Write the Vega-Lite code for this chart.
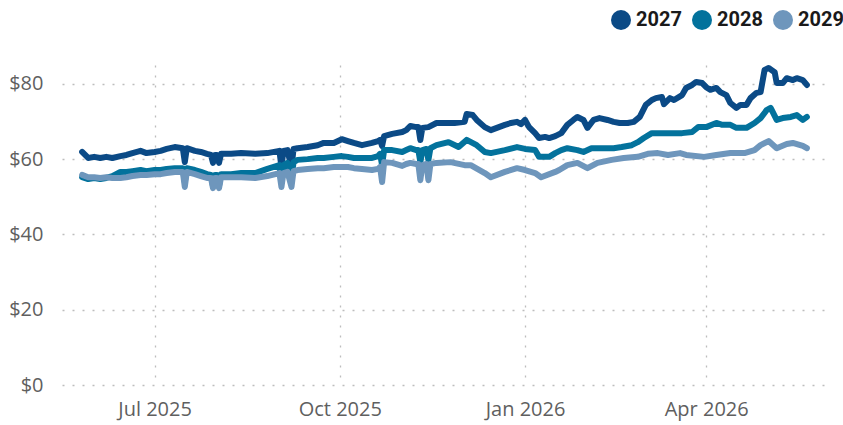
{
  "$schema": "https://vega.github.io/schema/vega-lite/v6.json",
  "width": 763,
  "height": 320,
  "autosize": "none",
  "padding": {"left": 62, "top": 65, "right": 18, "bottom": 40},
  "background": "white",
  "config": {"view": {"stroke": null}},
  "data": {"values": [
    {"d":"2025-05-26","s":"2027","v":61.9},{"d":"2025-05-29","s":"2027","v":60.3},{"d":"2025-06-01","s":"2027","v":60.6},{"d":"2025-06-04","s":"2027","v":60.3},{"d":"2025-06-07","s":"2027","v":60.6},{"d":"2025-06-10","s":"2027","v":60.3},{"d":"2025-06-14","s":"2027","v":60.8},{"d":"2025-06-17","s":"2027","v":61.1},{"d":"2025-06-20","s":"2027","v":61.6},{"d":"2025-06-24","s":"2027","v":62.2},{"d":"2025-06-27","s":"2027","v":61.6},{"d":"2025-07-01","s":"2027","v":61.9},{"d":"2025-07-04","s":"2027","v":62.2},{"d":"2025-07-07","s":"2027","v":62.7},{"d":"2025-07-11","s":"2027","v":63.2},{"d":"2025-07-15","s":"2027","v":62.9},{"d":"2025-07-16","s":"2027","v":59.2},{"d":"2025-07-17","s":"2027","v":62.9},{"d":"2025-07-21","s":"2027","v":62.2},{"d":"2025-07-24","s":"2027","v":61.9},{"d":"2025-07-27","s":"2027","v":61.4},{"d":"2025-07-29","s":"2027","v":61.1},{"d":"2025-07-30","s":"2027","v":59.0},{"d":"2025-07-31","s":"2027","v":61.1},{"d":"2025-08-01","s":"2027","v":61.1},{"d":"2025-08-02","s":"2027","v":59.0},{"d":"2025-08-03","s":"2027","v":61.4},{"d":"2025-08-08","s":"2027","v":61.4},{"d":"2025-08-13","s":"2027","v":61.6},{"d":"2025-08-20","s":"2027","v":61.4},{"d":"2025-08-26","s":"2027","v":61.6},{"d":"2025-09-01","s":"2027","v":62.2},{"d":"2025-09-02","s":"2027","v":57.9},{"d":"2025-09-03","s":"2027","v":62.2},{"d":"2025-09-05","s":"2027","v":62.4},{"d":"2025-09-07","s":"2027","v":57.6},{"d":"2025-09-08","s":"2027","v":62.7},{"d":"2025-09-10","s":"2027","v":62.9},{"d":"2025-09-15","s":"2027","v":63.2},{"d":"2025-09-20","s":"2027","v":63.7},{"d":"2025-09-23","s":"2027","v":64.3},{"d":"2025-09-28","s":"2027","v":64.3},{"d":"2025-10-02","s":"2027","v":65.3},{"d":"2025-10-05","s":"2027","v":64.8},{"d":"2025-10-08","s":"2027","v":64.3},{"d":"2025-10-12","s":"2027","v":63.7},{"d":"2025-10-17","s":"2027","v":64.3},{"d":"2025-10-20","s":"2027","v":64.8},{"d":"2025-10-21","s":"2027","v":65.1},{"d":"2025-10-22","s":"2027","v":63.5},{"d":"2025-10-23","s":"2027","v":66.1},{"d":"2025-10-27","s":"2027","v":66.7},{"d":"2025-11-01","s":"2027","v":67.2},{"d":"2025-11-03","s":"2027","v":67.7},{"d":"2025-11-05","s":"2027","v":68.8},{"d":"2025-11-08","s":"2027","v":68.5},{"d":"2025-11-09","s":"2027","v":68.5},{"d":"2025-11-10","s":"2027","v":65.1},{"d":"2025-11-11","s":"2027","v":68.3},{"d":"2025-11-14","s":"2027","v":68.5},{"d":"2025-11-18","s":"2027","v":69.6},{"d":"2025-11-22","s":"2027","v":69.6},{"d":"2025-11-27","s":"2027","v":69.6},{"d":"2025-12-02","s":"2027","v":69.9},{"d":"2025-12-03","s":"2027","v":72.0},{"d":"2025-12-06","s":"2027","v":71.7},{"d":"2025-12-08","s":"2027","v":70.4},{"d":"2025-12-12","s":"2027","v":68.5},{"d":"2025-12-15","s":"2027","v":67.7},{"d":"2025-12-18","s":"2027","v":68.3},{"d":"2025-12-22","s":"2027","v":69.1},{"d":"2025-12-25","s":"2027","v":69.6},{"d":"2025-12-28","s":"2027","v":69.9},{"d":"2025-12-30","s":"2027","v":69.3},{"d":"2026-01-01","s":"2027","v":70.4},{"d":"2026-01-03","s":"2027","v":68.5},{"d":"2026-01-06","s":"2027","v":66.9},{"d":"2026-01-08","s":"2027","v":65.6},{"d":"2026-01-11","s":"2027","v":65.9},{"d":"2026-01-13","s":"2027","v":65.6},{"d":"2026-01-16","s":"2027","v":66.1},{"d":"2026-01-19","s":"2027","v":66.9},{"d":"2026-01-22","s":"2027","v":69.1},{"d":"2026-01-25","s":"2027","v":70.4},{"d":"2026-01-27","s":"2027","v":71.2},{"d":"2026-01-30","s":"2027","v":70.4},{"d":"2026-02-01","s":"2027","v":68.3},{"d":"2026-02-04","s":"2027","v":70.4},{"d":"2026-02-07","s":"2027","v":70.9},{"d":"2026-02-11","s":"2027","v":70.4},{"d":"2026-02-14","s":"2027","v":69.9},{"d":"2026-02-17","s":"2027","v":69.6},{"d":"2026-02-21","s":"2027","v":69.6},{"d":"2026-02-24","s":"2027","v":69.9},{"d":"2026-02-27","s":"2027","v":71.2},{"d":"2026-03-02","s":"2027","v":74.4},{"d":"2026-03-05","s":"2027","v":75.7},{"d":"2026-03-07","s":"2027","v":76.2},{"d":"2026-03-10","s":"2027","v":76.5},{"d":"2026-03-11","s":"2027","v":74.6},{"d":"2026-03-14","s":"2027","v":76.2},{"d":"2026-03-16","s":"2027","v":75.7},{"d":"2026-03-20","s":"2027","v":77.0},{"d":"2026-03-22","s":"2027","v":78.9},{"d":"2026-03-25","s":"2027","v":79.7},{"d":"2026-03-27","s":"2027","v":80.5},{"d":"2026-03-30","s":"2027","v":80.2},{"d":"2026-04-01","s":"2027","v":79.1},{"d":"2026-04-03","s":"2027","v":78.4},{"d":"2026-04-06","s":"2027","v":78.9},{"d":"2026-04-08","s":"2027","v":77.8},{"d":"2026-04-11","s":"2027","v":77.0},{"d":"2026-04-13","s":"2027","v":74.9},{"d":"2026-04-16","s":"2027","v":73.6},{"d":"2026-04-18","s":"2027","v":74.4},{"d":"2026-04-21","s":"2027","v":74.4},{"d":"2026-04-23","s":"2027","v":76.2},{"d":"2026-04-26","s":"2027","v":77.6},{"d":"2026-04-28","s":"2027","v":77.8},{"d":"2026-04-30","s":"2027","v":83.7},{"d":"2026-05-02","s":"2027","v":84.2},{"d":"2026-05-05","s":"2027","v":83.1},{"d":"2026-05-06","s":"2027","v":80.2},{"d":"2026-05-09","s":"2027","v":80.2},{"d":"2026-05-11","s":"2027","v":81.5},{"d":"2026-05-14","s":"2027","v":81.0},{"d":"2026-05-16","s":"2027","v":81.5},{"d":"2026-05-19","s":"2027","v":81.0},{"d":"2026-05-21","s":"2027","v":79.7},
    {"d":"2025-05-26","s":"2028","v":55.2},{"d":"2025-05-29","s":"2028","v":54.7},{"d":"2025-06-01","s":"2028","v":55.0},{"d":"2025-06-04","s":"2028","v":54.7},{"d":"2025-06-07","s":"2028","v":55.0},{"d":"2025-06-10","s":"2028","v":55.5},{"d":"2025-06-14","s":"2028","v":56.6},{"d":"2025-06-17","s":"2028","v":56.6},{"d":"2025-06-20","s":"2028","v":56.8},{"d":"2025-06-24","s":"2028","v":57.1},{"d":"2025-06-27","s":"2028","v":56.8},{"d":"2025-07-01","s":"2028","v":57.1},{"d":"2025-07-04","s":"2028","v":57.1},{"d":"2025-07-07","s":"2028","v":57.4},{"d":"2025-07-11","s":"2028","v":57.6},{"d":"2025-07-15","s":"2028","v":57.6},{"d":"2025-07-16","s":"2028","v":53.9},{"d":"2025-07-17","s":"2028","v":57.6},{"d":"2025-07-21","s":"2028","v":57.1},{"d":"2025-07-24","s":"2028","v":56.6},{"d":"2025-07-27","s":"2028","v":56.0},{"d":"2025-07-29","s":"2028","v":55.8},{"d":"2025-07-30","s":"2028","v":52.9},{"d":"2025-07-31","s":"2028","v":55.8},{"d":"2025-08-01","s":"2028","v":55.8},{"d":"2025-08-02","s":"2028","v":52.9},{"d":"2025-08-03","s":"2028","v":56.0},{"d":"2025-08-08","s":"2028","v":56.0},{"d":"2025-08-13","s":"2028","v":56.3},{"d":"2025-08-20","s":"2028","v":56.3},{"d":"2025-08-26","s":"2028","v":57.4},{"d":"2025-09-01","s":"2028","v":58.4},{"d":"2025-09-02","s":"2028","v":54.4},{"d":"2025-09-03","s":"2028","v":58.4},{"d":"2025-09-05","s":"2028","v":59.0},{"d":"2025-09-07","s":"2028","v":54.4},{"d":"2025-09-08","s":"2028","v":59.2},{"d":"2025-09-10","s":"2028","v":59.8},{"d":"2025-09-15","s":"2028","v":60.0},{"d":"2025-09-20","s":"2028","v":60.3},{"d":"2025-09-23","s":"2028","v":60.3},{"d":"2025-09-28","s":"2028","v":60.6},{"d":"2025-10-02","s":"2028","v":60.8},{"d":"2025-10-05","s":"2028","v":60.6},{"d":"2025-10-08","s":"2028","v":60.3},{"d":"2025-10-12","s":"2028","v":60.3},{"d":"2025-10-17","s":"2028","v":60.3},{"d":"2025-10-20","s":"2028","v":60.8},{"d":"2025-10-21","s":"2028","v":61.4},{"d":"2025-10-22","s":"2028","v":58.4},{"d":"2025-10-23","s":"2028","v":62.4},{"d":"2025-10-27","s":"2028","v":62.4},{"d":"2025-11-01","s":"2028","v":61.9},{"d":"2025-11-03","s":"2028","v":62.4},{"d":"2025-11-05","s":"2028","v":62.9},{"d":"2025-11-08","s":"2028","v":62.4},{"d":"2025-11-09","s":"2028","v":62.4},{"d":"2025-11-10","s":"2028","v":59.2},{"d":"2025-11-11","s":"2028","v":62.4},{"d":"2025-11-13","s":"2028","v":62.7},{"d":"2025-11-14","s":"2028","v":59.8},{"d":"2025-11-15","s":"2028","v":62.9},{"d":"2025-11-18","s":"2028","v":63.7},{"d":"2025-11-24","s":"2028","v":64.5},{"d":"2025-11-29","s":"2028","v":63.2},{"d":"2025-12-03","s":"2028","v":65.1},{"d":"2025-12-08","s":"2028","v":63.7},{"d":"2025-12-12","s":"2028","v":61.9},{"d":"2025-12-15","s":"2028","v":61.6},{"d":"2025-12-22","s":"2028","v":62.4},{"d":"2025-12-28","s":"2028","v":63.2},{"d":"2026-01-01","s":"2028","v":62.7},{"d":"2026-01-06","s":"2028","v":62.4},{"d":"2026-01-08","s":"2028","v":60.6},{"d":"2026-01-13","s":"2028","v":60.6},{"d":"2026-01-16","s":"2028","v":61.6},{"d":"2026-01-19","s":"2028","v":62.4},{"d":"2026-01-22","s":"2028","v":62.9},{"d":"2026-01-27","s":"2028","v":62.4},{"d":"2026-01-30","s":"2028","v":61.9},{"d":"2026-02-03","s":"2028","v":62.9},{"d":"2026-02-07","s":"2028","v":62.9},{"d":"2026-02-14","s":"2028","v":62.9},{"d":"2026-02-18","s":"2028","v":63.2},{"d":"2026-02-23","s":"2028","v":63.7},{"d":"2026-02-26","s":"2028","v":64.5},{"d":"2026-03-01","s":"2028","v":65.6},{"d":"2026-03-05","s":"2028","v":66.9},{"d":"2026-03-08","s":"2028","v":66.9},{"d":"2026-03-11","s":"2028","v":66.9},{"d":"2026-03-16","s":"2028","v":66.9},{"d":"2026-03-20","s":"2028","v":66.9},{"d":"2026-03-25","s":"2028","v":67.2},{"d":"2026-03-28","s":"2028","v":68.5},{"d":"2026-04-01","s":"2028","v":68.5},{"d":"2026-04-06","s":"2028","v":69.6},{"d":"2026-04-09","s":"2028","v":69.1},{"d":"2026-04-13","s":"2028","v":69.1},{"d":"2026-04-16","s":"2028","v":68.3},{"d":"2026-04-21","s":"2028","v":68.3},{"d":"2026-04-25","s":"2028","v":69.6},{"d":"2026-04-28","s":"2028","v":70.9},{"d":"2026-05-01","s":"2028","v":73.0},{"d":"2026-05-03","s":"2028","v":73.6},{"d":"2026-05-06","s":"2028","v":70.4},{"d":"2026-05-09","s":"2028","v":70.9},{"d":"2026-05-13","s":"2028","v":71.2},{"d":"2026-05-16","s":"2028","v":71.7},{"d":"2026-05-19","s":"2028","v":70.4},{"d":"2026-05-21","s":"2028","v":71.2},
    {"d":"2025-05-26","s":"2029","v":55.8},{"d":"2025-05-29","s":"2029","v":55.2},{"d":"2025-06-01","s":"2029","v":55.2},{"d":"2025-06-04","s":"2029","v":55.0},{"d":"2025-06-07","s":"2029","v":55.2},{"d":"2025-06-10","s":"2029","v":55.0},{"d":"2025-06-14","s":"2029","v":55.0},{"d":"2025-06-17","s":"2029","v":55.2},{"d":"2025-06-20","s":"2029","v":55.5},{"d":"2025-06-24","s":"2029","v":55.8},{"d":"2025-06-27","s":"2029","v":55.8},{"d":"2025-07-01","s":"2029","v":56.0},{"d":"2025-07-04","s":"2029","v":56.0},{"d":"2025-07-07","s":"2029","v":56.3},{"d":"2025-07-11","s":"2029","v":56.6},{"d":"2025-07-15","s":"2029","v":56.6},{"d":"2025-07-16","s":"2029","v":52.6},{"d":"2025-07-17","s":"2029","v":56.6},{"d":"2025-07-21","s":"2029","v":56.0},{"d":"2025-07-24","s":"2029","v":55.5},{"d":"2025-07-27","s":"2029","v":55.0},{"d":"2025-07-29","s":"2029","v":55.0},{"d":"2025-07-30","s":"2029","v":52.3},{"d":"2025-07-31","s":"2029","v":55.0},{"d":"2025-08-01","s":"2029","v":55.0},{"d":"2025-08-02","s":"2029","v":52.3},{"d":"2025-08-03","s":"2029","v":55.2},{"d":"2025-08-08","s":"2029","v":55.2},{"d":"2025-08-13","s":"2029","v":55.2},{"d":"2025-08-20","s":"2029","v":55.0},{"d":"2025-08-26","s":"2029","v":55.5},{"d":"2025-09-01","s":"2029","v":56.3},{"d":"2025-09-02","s":"2029","v":52.6},{"d":"2025-09-03","s":"2029","v":56.3},{"d":"2025-09-05","s":"2029","v":56.6},{"d":"2025-09-07","s":"2029","v":52.6},{"d":"2025-09-08","s":"2029","v":56.8},{"d":"2025-09-10","s":"2029","v":57.1},{"d":"2025-09-15","s":"2029","v":57.4},{"d":"2025-09-20","s":"2029","v":57.6},{"d":"2025-09-23","s":"2029","v":57.6},{"d":"2025-09-28","s":"2029","v":57.9},{"d":"2025-10-02","s":"2029","v":57.9},{"d":"2025-10-05","s":"2029","v":57.9},{"d":"2025-10-08","s":"2029","v":57.6},{"d":"2025-10-12","s":"2029","v":57.4},{"d":"2025-10-17","s":"2029","v":57.1},{"d":"2025-10-20","s":"2029","v":57.4},{"d":"2025-10-21","s":"2029","v":57.9},{"d":"2025-10-22","s":"2029","v":53.9},{"d":"2025-10-23","s":"2029","v":59.2},{"d":"2025-10-27","s":"2029","v":59.0},{"d":"2025-11-01","s":"2029","v":58.2},{"d":"2025-11-03","s":"2029","v":58.7},{"d":"2025-11-05","s":"2029","v":59.0},{"d":"2025-11-08","s":"2029","v":58.7},{"d":"2025-11-09","s":"2029","v":58.7},{"d":"2025-11-10","s":"2029","v":54.4},{"d":"2025-11-11","s":"2029","v":58.4},{"d":"2025-11-13","s":"2029","v":58.7},{"d":"2025-11-14","s":"2029","v":54.4},{"d":"2025-11-15","s":"2029","v":58.7},{"d":"2025-11-18","s":"2029","v":59.0},{"d":"2025-11-25","s":"2029","v":59.2},{"d":"2025-12-02","s":"2029","v":58.4},{"d":"2025-12-05","s":"2029","v":58.4},{"d":"2025-12-12","s":"2029","v":56.3},{"d":"2025-12-15","s":"2029","v":55.2},{"d":"2025-12-22","s":"2029","v":56.6},{"d":"2025-12-28","s":"2029","v":57.6},{"d":"2026-01-01","s":"2029","v":57.1},{"d":"2026-01-06","s":"2029","v":56.3},{"d":"2026-01-09","s":"2029","v":55.2},{"d":"2026-01-16","s":"2029","v":56.6},{"d":"2026-01-18","s":"2029","v":57.1},{"d":"2026-01-22","s":"2029","v":58.4},{"d":"2026-01-27","s":"2029","v":59.0},{"d":"2026-02-01","s":"2029","v":57.6},{"d":"2026-02-06","s":"2029","v":59.0},{"d":"2026-02-13","s":"2029","v":59.8},{"d":"2026-02-19","s":"2029","v":60.3},{"d":"2026-02-26","s":"2029","v":60.6},{"d":"2026-03-03","s":"2029","v":61.4},{"d":"2026-03-08","s":"2029","v":61.6},{"d":"2026-03-13","s":"2029","v":61.1},{"d":"2026-03-19","s":"2029","v":61.6},{"d":"2026-03-22","s":"2029","v":61.1},{"d":"2026-03-31","s":"2029","v":60.6},{"d":"2026-04-06","s":"2029","v":61.1},{"d":"2026-04-13","s":"2029","v":61.6},{"d":"2026-04-20","s":"2029","v":61.6},{"d":"2026-04-25","s":"2029","v":62.4},{"d":"2026-04-28","s":"2029","v":63.7},{"d":"2026-05-02","s":"2029","v":64.8},{"d":"2026-05-06","s":"2029","v":62.9},{"d":"2026-05-11","s":"2029","v":64.0},{"d":"2026-05-14","s":"2029","v":64.3},{"d":"2026-05-19","s":"2029","v":63.5},{"d":"2026-05-21","s":"2029","v":62.9}
  ]},
  "mark": {"type": "line", "strokeWidth": 6, "strokeCap": "round", "strokeJoin": "round"},
  "encoding": {
    "x": {
      "field": "d", "type": "temporal",
      "scale": {"type": "utc", "domain": [{"year": 2025, "month": 5, "date": 16, "utc": true}, {"year": 2026, "month": 5, "date": 30, "utc": true}]},
      "axis": {
        "title": null,
        "values": [{"year": 2025, "month": 7, "date": 1, "utc": true}, {"year": 2025, "month": 10, "date": 1, "utc": true}, {"year": 2026, "month": 1, "date": 1, "utc": true}, {"year": 2026, "month": 4, "date": 1, "utc": true}],
        "format": "%b %Y",
        "domain": false, "ticks": false,
        "labelFont": "Open Sans", "labelFontSize": 20, "labelColor": "#5f5f5f", "labelPadding": 14,
        "grid": true, "gridColor": "#bdbdbd", "gridDash": [2, 8], "gridWidth": 1.3
      }
    },
    "y": {
      "field": "v", "type": "quantitative",
      "scale": {"domain": [0, 85], "nice": false},
      "axis": {
        "title": null, "values": [0, 20, 40, 60, 80], "format": "$,.0f",
        "domain": false, "ticks": false,
        "labelFont": "Open Sans", "labelFontSize": 20, "labelColor": "#5f5f5f", "labelPadding": 19,
        "grid": true, "gridColor": "#bdbdbd", "gridDash": [2, 8], "gridWidth": 1.3
      }
    },
    "color": {
      "field": "s", "type": "nominal",
      "scale": {"domain": ["2027", "2028", "2029"], "range": ["#0b4a86", "#03729c", "#6e96bc"]},
      "legend": {
        "title": null, "orient": "none", "direction": "horizontal",
        "legendX": 549, "legendY": -55, "padding": 0,
        "symbolType": "circle", "symbolSize": 400, "symbolStrokeWidth": 0,
        "labelFont": "Roboto", "labelFontSize": 20, "labelFontWeight": "bold", "labelColor": "#1a1a1a",
        "labelOffset": 5, "columnPadding": 10,
        "encode": {"symbols": {"update": {"fill": {"scale": "color", "field": "value"}, "fillOpacity": {"value": 1}, "strokeWidth": {"value": 0}}}}
      }
    }
  }
}
